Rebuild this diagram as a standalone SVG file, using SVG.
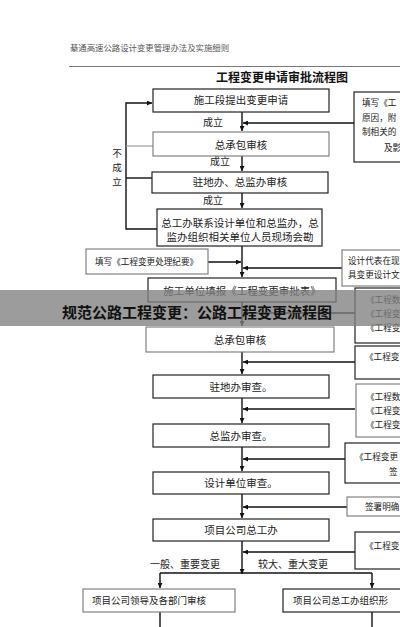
<svg xmlns="http://www.w3.org/2000/svg" width="400" height="627" viewBox="0 0 400 627">
<defs>
<marker id="ah" viewBox="0 0 10 10" refX="10" refY="5" markerWidth="5" markerHeight="5" orient="auto" markerUnits="userSpaceOnUse"><path d="M0,0 L10,5 L0,10 z" fill="#111"/></marker>
<style>
text{font-family:"Noto Sans CJK SC","Liberation Sans",sans-serif;fill:#222}
.t{font-size:10.5px;text-anchor:middle}
.s{font-size:8.6px}
.box{fill:#fff;stroke:#222;stroke-width:1.2}
.gbox{fill:#fff;stroke:#777;stroke-width:1.1}
.ln{fill:none;stroke:#111;stroke-width:1.4}
.lab{font-size:10px}
</style>
</defs>
<rect width="400" height="627" fill="#fff"/>
<text x="70" y="51" style="font-size:8.4px;fill:#555">綦通高速公路设计变更管理办法及实施细则</text>
<line x1="69" y1="66.5" x2="400" y2="66.5" stroke="#777" stroke-width="1"/>
<text x="282" y="82" style="font-size:12px;font-weight:bold;text-anchor:middle;fill:#111">工程变更申请审批流程图</text>

<g id="connectors">
<path class="ln" d="M242,112 V131" marker-end="url(#ah)"/>
<path class="ln" d="M354,123 H243" marker-end="url(#ah)"/>
<path class="ln" d="M242,156 V171" marker-end="url(#ah)"/>
<path class="ln" d="M242,193 V208" marker-end="url(#ah)"/>
<path class="ln" d="M157,229 H126 V103 H152" marker-end="url(#ah)"/>
<path d="M153,146 H126" stroke="#999" stroke-width="1.2"/>
<path class="ln" d="M152,178 H126"/>
<path class="ln" d="M242,246 V277" marker-end="url(#ah)"/>
<path class="ln" d="M208,262 H241" marker-end="url(#ah)"/>
<path class="ln" d="M342,268 H243" marker-end="url(#ah)"/>
<path class="ln" d="M242,302 V326" marker-end="url(#ah)"/>
<path class="ln" d="M355,313 H243" marker-end="url(#ah)"/>
<path class="ln" d="M242,352 V374" marker-end="url(#ah)"/>
<path class="ln" d="M355,362 H243" marker-end="url(#ah)"/>
<path class="ln" d="M242,398 V423" marker-end="url(#ah)"/>
<path class="ln" d="M355,409 H243" marker-end="url(#ah)"/>
<path class="ln" d="M242,447 V471" marker-end="url(#ah)"/>
<path class="ln" d="M345,459 H243" marker-end="url(#ah)"/>
<path class="ln" d="M242,494 V518" marker-end="url(#ah)"/>
<path class="ln" d="M347,507 H243" marker-end="url(#ah)"/>
<path class="ln" d="M242,541 V574" marker-end="url(#ah)"/>
<path class="ln" d="M355,552 H243" marker-end="url(#ah)"/>
<path class="ln" d="M160,573 H372"/>
<path class="ln" d="M160,573 V588" marker-end="url(#ah)"/>
<path class="ln" d="M372,573 V588" marker-end="url(#ah)"/>
<path class="ln" d="M160,612 V627"/>
<path class="ln" d="M372,612 V627"/>
</g>

<text class="lab" x="213" y="126" text-anchor="middle">成立</text>
<text class="lab" x="220" y="165" text-anchor="middle">成立</text>
<text class="lab" x="213" y="204" text-anchor="middle">成立</text>
<text x="117" y="157" text-anchor="middle" style="font-size:9.5px">不</text>
<text x="117" y="171" text-anchor="middle" style="font-size:9.5px">成</text>
<text x="117" y="185" text-anchor="middle" style="font-size:9.5px">立</text>
<text class="lab" x="185" y="568" text-anchor="middle">一般、重要变更</text>
<text class="lab" x="293" y="568" text-anchor="middle">较大、重大变更</text>

<g id="n1"><rect class="box" x="153" y="89" width="176" height="23"/><text class="t" x="241" y="104">施工段提出变更申请</text></g>
<g id="r1"><rect class="box" x="354" y="92" width="60" height="70"/>
<text class="s" x="362" y="106">填写《工</text><text class="s" x="362" y="121">原因，附</text><text class="s" x="362" y="135">制相关的</text><text class="s" x="384" y="151">及影</text></g>
<g id="n2"><rect class="gbox" x="153" y="132" width="176" height="24"/><text class="t" x="241" y="149">总承包审核</text></g>
<g id="n3"><rect class="box" x="152" y="172" width="176" height="21"/><text class="t" x="240" y="186">驻地办、总监办审核</text></g>
<g id="n4"><rect class="box" x="157" y="209" width="165" height="37"/>
<text class="t" x="240" y="227">总工办联系设计单位和总监办，总</text><text class="t" x="240" y="241">监办组织相关单位人员现场会勘</text></g>
<g id="l1"><rect class="gbox" x="86" y="249" width="122" height="25"/><text class="s" x="95" y="265">填写《工程变更处理纪要》</text></g>
<g id="r2"><rect class="gbox" x="342" y="250" width="70" height="36"/>
<text class="s" x="348" y="264">设计代表在现</text><text class="s" x="348" y="278">具变更设计文</text></g>
<g id="n5"><rect class="box" x="148" y="278" width="188" height="24"/><text class="t" x="242" y="295">施工单位填报《工程变更审批表》</text></g>
<g id="r3"><rect class="box" x="355" y="288" width="60" height="55"/>
<text class="s" x="366" y="303">《工程数</text><text class="s" x="366" y="317">《工程变</text><text class="s" x="366" y="331">《工程变</text></g>
<g id="n7"><rect class="gbox" x="146" y="327" width="188" height="25"/><text class="t" x="240" y="344">总承包审核</text></g>
<g id="r4"><rect class="box" x="355" y="346" width="60" height="33"/><text class="s" x="365" y="360">《工程变</text></g>
<g id="n9"><rect class="box" x="153" y="375" width="176" height="23"/><text class="t" x="241" y="391">驻地办审查。</text></g>
<g id="r5"><rect class="gbox" x="356" y="384" width="60" height="53"/>
<text class="s" x="366" y="400">《工程数</text><text class="s" x="366" y="414">《工程变</text><text class="s" x="366" y="428">《工程变</text></g>
<g id="n11"><rect class="box" x="153" y="424" width="176" height="23"/><text class="t" x="241" y="440">总监办审查。</text></g>
<g id="r6"><rect class="box" x="345" y="443" width="70" height="40"/>
<text class="s" x="355" y="460">《工程变更</text><text class="s" x="389" y="475">签</text></g>
<g id="n13"><rect class="box" x="153" y="472" width="176" height="22"/><text class="t" x="241" y="487">设计单位审查。</text></g>
<g id="r7"><rect class="gbox" x="347" y="497" width="70" height="19"/><text class="s" x="365" y="510">签署明确</text></g>
<g id="n15"><rect class="box" x="153" y="519" width="176" height="22"/><text class="t" x="241" y="534">项目公司总工办</text></g>
<g id="r8"><rect class="box" x="355" y="532" width="60" height="37"/><text class="s" x="365" y="549">《工程变</text></g>
<g id="n17"><rect class="gbox" x="83" y="589" width="152" height="23"/><text class="s" x="92" y="604" style="font-size:9.5px">项目公司领导及各部门审核</text></g>
<g id="n18"><rect class="box" x="283" y="589" width="130" height="23"/><text class="s" x="293" y="604" style="font-size:9.5px">项目公司总工办组织形</text></g>

<rect x="0" y="290" width="400" height="36" fill="#808080" opacity="0.78"/>
<text x="197" y="318" style="font-size:15px;font-weight:bold;text-anchor:middle;fill:#111">规范公路工程变更：公路工程变更流程图</text>
</svg>
